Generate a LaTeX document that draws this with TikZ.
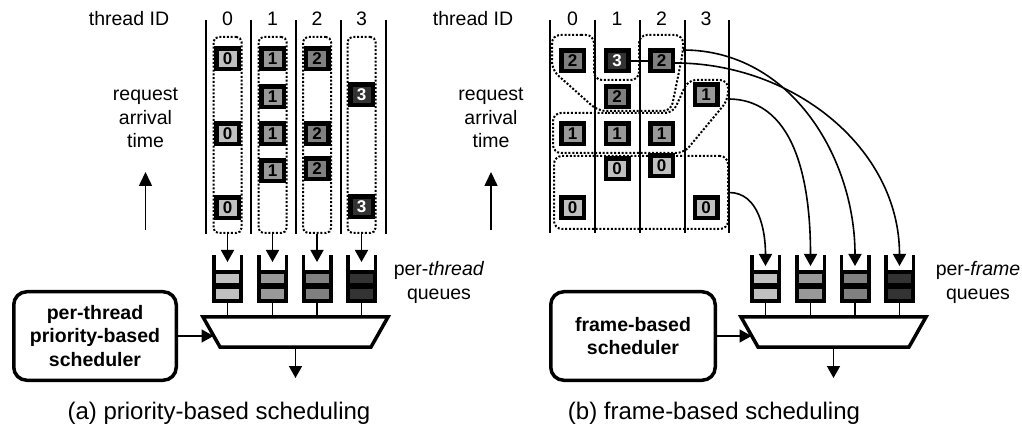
\documentclass[tikz,border=0pt]{standalone}
\usepackage{fontspec}
\setmainfont{Liberation Sans}
\usetikzlibrary{arrows.meta}

\definecolor{lvlzero}{HTML}{C0C0C0}
\definecolor{lvlone}{HTML}{999999}
\definecolor{lvltwo}{HTML}{808080}
\definecolor{lvlthree}{HTML}{333333}

\newcommand\lblfont{\fontsize{19.5pt}{23.5pt}\selectfont}
\newcommand\captfont{\fontsize{24pt}{28pt}\selectfont}
\newcommand\reqfont{\fontsize{17pt}{17pt}\selectfont\bfseries}

\tikzset{
  req/.style={draw=black, line width=4.5pt, minimum width=22.5pt, minimum height=20.5pt, inner sep=0pt, font=\reqfont},
  r0/.style={req, fill=lvlzero},
  r1/.style={req, fill=lvlone},
  r2/.style={req, fill=lvltwo},
  r3/.style={req, fill=lvlthree, text=white},
  colline/.style={line width=2pt},
  dotline/.style={line width=2pt, dash pattern=on 2pt off 1.8pt},
  tcol/.style={dotline, draw, rounded corners=5pt, minimum width=28pt, minimum height=196pt, inner sep=0pt},
  mux/.style={line width=3.5pt, line join=miter},
  sched/.style={draw, line width=3.5pt, rounded corners=13pt, minimum height=88.5pt, align=center, font=\lblfont\bfseries},
  arr/.style={line width=1.6pt, -{Triangle[length=12pt,width=13pt]}},
  tarr/.style={line width=1.6pt, -{Triangle[length=14pt,width=13pt]}},
  link/.style={line width=1.5pt}
}

\begin{document}
\begin{tikzpicture}[x=1pt,y=-1pt]
\useasboundingbox (0,0) rectangle (1022,435);

% ---------------- (a) priority-based scheduling ----------------
\node[font=\lblfont] (tida) at (129,19) {thread ID};
\foreach \x in {206,251,296,341,386}
  \draw[colline] (\x,20) -- (\x,234);
\foreach \x [count=\i from 0] in {227.5,272.5,317,361.5} {
  \node[font=\lblfont] (hda\i) at (\x,19) {\i};
  \node[tcol] (ta\i) at (\x,135) {};
}

% requests per thread
\foreach \x/\y/\k [count=\n] in {227.5/59/0, 227.5/134/0, 227.5/208/0,
    272.5/59/1, 272.5/97/1, 272.5/134/1, 272.5/171/1,
    317/59/2, 317/134/2, 317/169/2,
    361.5/95/3, 361.5/207/3}
  \node[r\k] (ra\n) at (\x,\y) {\k};

\node[font=\lblfont, align=center] (rata) at (145.5,118) {request\\arrival\\time};
\coordinate (tbase a) at (145.5,230);
\coordinate (ttip a) at (145.5,172);
\draw[tarr] (tbase a) -- (ttip a);

% per-thread queues
\foreach \x/\c [count=\i from 0] in {227.5/lvlzero,272.5/lvlone,317/lvltwo,361.5/lvlthree} {
  \fill (\x-15.5,255) rectangle (\x-12,270);
  \fill (\x+12,255) rectangle (\x+15.5,270);
  \fill (\x-15.5,270) rectangle (\x+15.5,303);
  \fill[\c] (\x-11.5,274) rectangle (\x+11.5,283.5);
  \fill[\c] (\x-11.5,289.5) rectangle (\x+11.5,299);
  \coordinate (qa\i) at (\x,262);
  \draw[link] (\x,303) -- (\x,317);
  \draw[arr] (ta\i) -- (qa\i);
}
\node[font=\lblfont, align=center] (qla) at (439,282.5) {per-\textit{thread}\\queues};

% mux and scheduler
\draw[mux] (203,317) -- (388,317) -- (371,347) -- (220,347) -- cycle;
\coordinate (muxa in) at (213.5,336);
\coordinate (muxa out) at (295.5,347);
\coordinate (outa) at (295.5,378);
\draw[arr] (muxa out) -- (outa);
\node[sched, minimum width=162.5pt] (scha) at (95,336) {per-thread\\priority-based\\scheduler};
\draw[arr] (scha) -- (muxa in);

\node[font=\captfont] (capa) at (219,413) {(a) priority-based scheduling};

% ---------------- (b) frame-based scheduling ----------------
\node[font=\lblfont] (tidb) at (473,19) {thread ID};
\foreach \x in {550,595,640,684.5,729}
  \draw[colline] (\x,20) -- (\x,233);
\foreach \x [count=\i from 0] in {572.5,617,661.5,706}
  \node[font=\lblfont] (hdb\i) at (\x,19) {\i};

% frames
\draw[dotline, rounded corners=8pt] (573,35) -- (594,35) -- (594,80) -- (639,80)
  -- (639,35) -- (683,35) -- (683,52) -- (671,111) -- (598,111) -- (552,70)
  -- (552,35) -- cycle;
\coordinate (f2 out) at (683,50);
\draw[dotline, rounded corners=8pt] (600,113) -- (673,113) -- (688,80) -- (728,80)
  -- (728,100) -- (684,153) -- (553,153) -- (553,113) -- cycle;
\coordinate (f1 out) at (728,99);
\node[dotline, draw, rounded corners=8pt, minimum width=174pt, minimum height=73pt, inner sep=0pt] (fb0) at (641,192.5) {};

% requests
\node[r2] (rbtwo a) at (572.5,61) {2};
\node[r3] (rbthree) at (617,61) {3};
\node[r2] (rbtwo c) at (661.5,61) {2};
\node[r2] (rbtwo b) at (617,97) {2};
\foreach \x/\y/\k [count=\n] in {706/95/1, 572.5/134/1, 617/134/1, 661.5/134/1,
    617/169/0, 661.5/166/0, 572.5/208/0, 706/208/0}
  \node[r\k] (rbq\n) at (\x,\y) {\k};

\node[font=\lblfont, align=center] (ratb) at (491,118) {request\\arrival\\time};
\coordinate (tbase b) at (491,230);
\coordinate (ttip b) at (491,172);
\draw[tarr] (tbase b) -- (ttip b);

% per-frame queues
\foreach \x/\c [count=\i from 0] in {765.5/lvlzero,810.5/lvlone,855/lvltwo,899.5/lvlthree} {
  \fill (\x-15.5,255) rectangle (\x-12,270);
  \fill (\x+12,255) rectangle (\x+15.5,270);
  \fill (\x-15.5,270) rectangle (\x+15.5,303);
  \fill[\c] (\x-11.5,274) rectangle (\x+11.5,283.5);
  \fill[\c] (\x-11.5,289.5) rectangle (\x+11.5,299);
  \coordinate (qb\i) at (\x,266);
  \draw[link] (\x,303) -- (\x,317);
}
\node[font=\lblfont, align=center] (qlb) at (978,282.5) {per-\textit{frame}\\queues};

% frames into queues
\draw[arr] (fb0.east) .. controls +(30,0) and +(0,-35) .. (qb0);
\draw[arr] (f1 out) .. controls +(72,0) and +(0,-72) .. (qb1);
\draw[arr] (f2 out) .. controls +(108,0) and +(0,-108) .. (qb2);
\draw[link] (rbthree) -- (rbtwo c);
\draw[arr] ([yshift=-2pt]rbtwo c.east) .. controls +(118,0) and +(0,-118) .. (qb3);

% mux and scheduler
\draw[mux] (741,317) -- (926,317) -- (909,347) -- (758,347) -- cycle;
\coordinate (muxb in) at (751.5,336);
\coordinate (muxb out) at (833.5,347);
\coordinate (outb) at (833.5,378);
\draw[arr] (muxb out) -- (outb);
\node[sched, minimum width=164.5pt] (schb) at (633,336) {frame-based\\scheduler};
\draw[arr] (schb) -- (muxb in);

\node[font=\captfont] (capb) at (714,413) {(b) frame-based scheduling};
\end{tikzpicture}
\end{document}
